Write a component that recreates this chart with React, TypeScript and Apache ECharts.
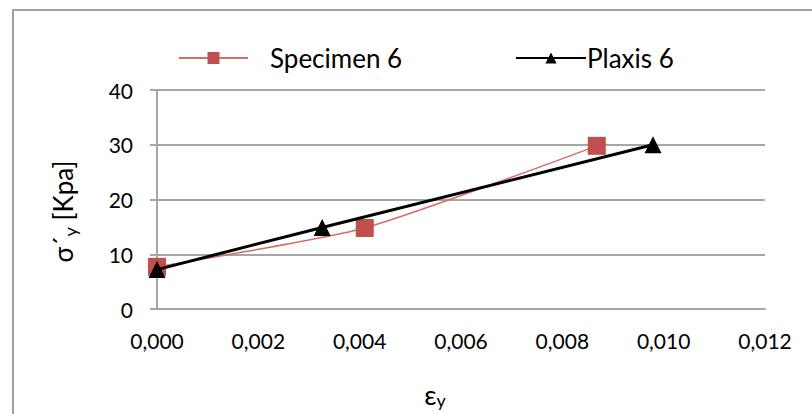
import React, { useEffect, useRef } from "react";
import * as echarts from "echarts";

const specimenX = [0.0, 0.0041, 0.00868];
const specimenY = [7.7, 14.8, 29.8];
const plaxisX = [0.0, 0.00326, 0.00979];
const plaxisY = [7.2, 14.9, 30.0];
const xTicks = { min: 0, max: 0.012, interval: 0.002 };
const yTicks = { min: 0, max: 40, interval: 10 };

const FONT = "Lato";

export default function App() {
  const ref = useRef<HTMLDivElement>(null);
  useEffect(() => {
    if (!ref.current) return;
    const chart = echarts.init(ref.current, undefined, { renderer: "svg" });
    const gridColor = "#A6A6A6";
    chart.setOption({
      animation: false,
      backgroundColor: "#fff",
      textStyle: { fontFamily: FONT },
      graphic: [
        {
          type: "rect",
          shape: { x: 13, y: 10, width: 900, height: 500 },
          style: { fill: "none", stroke: "#A0A0A0", lineWidth: 2 },
          silent: true,
        },
      ],
      legend: [
        {
          data: ["Specimen 6"],
          left: 173,
          top: 40,
          itemWidth: 69,
          itemHeight: 15,
          textStyle: { fontFamily: FONT, fontSize: 26, color: "#000", padding: [0, 0, 0, 17] },
        },
        {
          data: ["Plaxis 6"],
          left: 510,
          top: 40,
          itemWidth: 70,
          itemHeight: 14,
          textStyle: { fontFamily: FONT, fontSize: 26, color: "#000", padding: [0, 0, 0, -4] },
        },
      ],
      grid: { left: 157, right: 47, top: 90, bottom: 105 },
      xAxis: {
        type: "value",
        min: xTicks.min,
        max: xTicks.max,
        interval: xTicks.interval,
        axisLine: { show: true, lineStyle: { color: gridColor, width: 2 } },
        axisTick: { show: false },
        splitLine: { show: false },
        axisLabel: {
          fontFamily: FONT,
          fontSize: 21,
          color: "#000",
          margin: 21,
          formatter: (v: number) => v.toFixed(3).replace(".", ","),
        },
        name: "ε{sub|y}",
        nameLocation: "middle",
        nameGap: 70,
        nameTextStyle: {
          fontFamily: FONT,
          fontSize: 27,
          color: "#000",
          padding: [0, 52, 0, 0],
          rich: { sub: { fontFamily: FONT, fontSize: 18, color: "#000", padding: [12, 0, 0, 0] } },
        },
      },
      yAxis: {
        type: "value",
        min: yTicks.min,
        max: yTicks.max,
        interval: yTicks.interval,
        axisLine: { show: true, lineStyle: { color: gridColor, width: 2 } },
        axisTick: { show: true, length: 7, lineStyle: { color: gridColor, width: 2 } },
        splitLine: { show: true, lineStyle: { color: gridColor, width: 2 } },
        axisLabel: { fontFamily: FONT, fontSize: 21, color: "#000", margin: 24 },
        name: "σ´{sub|y} [Kpa]",
        nameLocation: "middle",
        nameGap: 78,
        nameRotate: 90,
        nameTextStyle: {
          fontFamily: FONT,
          fontSize: 26,
          color: "#000",
          padding: [0, 24, 0, 0],
          rich: { sub: { fontFamily: FONT, fontSize: 18, color: "#000", padding: [14, 0, 0, 0] } },
        },
      },
      series: [
        {
          name: "Specimen 6",
          type: "line",
          data: specimenX.map((x, i) => [x, specimenY[i]]),
          smooth: 0.2,
          symbol: "rect",
          symbolSize: 18,
          itemStyle: { color: "#C0504D" },
          lineStyle: { color: "#D96A68", width: 1.5 },
          z: 2,
        },
        {
          name: "Plaxis 6",
          type: "line",
          data: plaxisX.map((x, i) => [x, plaxisY[i]]),
          symbol: "triangle",
          symbolSize: 17,
          itemStyle: { color: "#000" },
          lineStyle: { color: "#000", width: 3 },
          z: 3,
        },
      ],
    });
    return () => chart.dispose();
  }, []);
  return (
    <div
      ref={ref}
      style={{ position: "fixed", left: 0, top: 0, width: 812, height: 414, background: "#fff" }}
    />
  );
}
